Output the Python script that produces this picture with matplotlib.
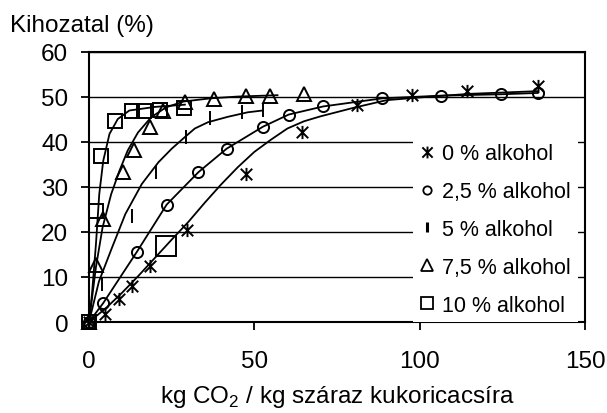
import matplotlib
matplotlib.use("Agg")
import matplotlib.pyplot as plt
from matplotlib.path import Path
from matplotlib.lines import Line2D

plt.rcParams['font.family'] = ['Liberation Sans', 'DejaVu Sans']

# ---- measured data (kg CO2 / kg dry corn germ, yield %) ----
x_0 = [0, 4.8, 9.2, 12.9, 18.5, 29.6, 47.6, 64.4, 81.0, 97.8, 114.4, 135.7]
y_0 = [0, 1.8, 5.1, 8.1, 12.5, 20.5, 32.9, 42.3, 48.3, 50.4, 51.3, 52.4]

x_25 = [0, 4.3, 14.4, 23.5, 33.1, 41.6, 52.6, 60.4, 70.8, 88.7, 106.4, 124.5, 135.7]
y_25 = [0, 4.2, 15.5, 26.1, 33.3, 38.5, 43.4, 46.1, 47.9, 49.7, 50.3, 50.6, 50.9]

x_5 = [0, 3.9, 13.0, 20.3, 29.3, 36.7, 46.3, 52.7]
y_5 = [0, 8.5, 23.6, 33.4, 41.2, 45.4, 46.6, 47.1]

x_75 = [0, 2.1, 4.3, 10.4, 13.6, 18.3, 22.5, 29.1, 37.7, 47.5, 54.6, 64.9]
y_75 = [0, 12.7, 22.9, 33.3, 38.3, 43.4, 46.8, 48.8, 49.5, 50.3, 50.2, 50.7]

x_10 = [0, 2.2, 3.7, 8.0, 13.0, 16.6, 21.5, 28.8]
y_10 = [0, 24.6, 36.8, 44.6, 46.8, 46.8, 47.2, 47.5]

# single enlarged square point of the 10 % series
x_10_big = [23.3]
y_10_big = [16.9]

# ---- fitted curves ----
cx_0 = [0, 5, 10, 15, 20, 25, 30, 35, 40, 45, 50, 55, 60, 65, 70, 80, 90, 100, 115, 135.7]
cy_0 = [0, 3.0, 6.5, 10.3, 14.3, 18.3, 22.2, 26.5, 30.6, 34.4, 37.8, 40.5, 43.0, 44.6, 45.7, 47.6, 49.3, 49.9, 50.7, 51.3]

cx_25 = [0, 4.3, 14.4, 23.5, 33.1, 41.6, 52.6, 60.4, 70.8, 88.7, 106.4, 124.5, 135.7]
cy_25 = [0, 4.2, 15.5, 26.1, 33.3, 38.5, 43.4, 46.1, 47.9, 49.7, 50.3, 50.6, 50.9]

cx_5 = [0, 3, 7, 11, 16, 21, 25, 29, 32, 36, 42, 48, 52.5]
cy_5 = [0, 9.0, 16.6, 24.0, 30.7, 35.5, 38.5, 41.1, 43.0, 44.4, 45.6, 46.6, 47.0]

cx_75 = [0, 2.1, 4.1, 6.7, 9.2, 11.7, 14.8, 18.8, 23.3, 28.6, 36.7, 45, 57]
cy_75 = [0, 12.2, 21.0, 28.4, 33.6, 38.1, 42.1, 45.5, 47.7, 49.0, 49.7, 50.1, 50.4]

cx_10 = [0, 0.9, 2.1, 3.1, 4.3, 6.2, 8.7, 12.2, 20, 29]
cy_10 = [0, 6.2, 17.3, 28.4, 35.8, 41.8, 45.1, 47.0, 47.8, 48.3]

labels = ['0 % alkohol', '2,5 % alkohol', '5 % alkohol', '7,5 % alkohol', '10 % alkohol']
x_ticks = [0, 50, 100, 150]
y_ticks = [0, 10, 20, 30, 40, 50, 60]

# star marker (X with vertical bar), like the Excel "star"
star = Path([(-1, -1), (1, 1), (-1, 1), (1, -1), (0, -1.15), (0, 1.15)],
            [Path.MOVETO, Path.LINETO, Path.MOVETO, Path.LINETO, Path.MOVETO, Path.LINETO])

fig = plt.figure(figsize=(6.07, 4.14), dpi=100)
ax = fig.add_axes([89/607, 1-323/414, 496/607, 270/414])

ax.set_xlim(0, 150)
ax.set_ylim(0, 60)
ax.set_xticks(x_ticks)
ax.set_yticks(y_ticks)
ax.yaxis.grid(True, color='black', lw=1.0)
ax.set_axisbelow(True)
for s in ax.spines.values():
    s.set_linewidth(1.5)
    s.set_color('black')
ax.tick_params(axis='both', direction='out', length=6, width=1.3, labelsize=17.5, colors='black')
ax.tick_params(axis='x', pad=14)
ax.tick_params(axis='y', pad=9)

lw = 1.3
for cx, cy in [(cx_0, cy_0), (cx_25, cy_25), (cx_5, cy_5), (cx_75, cy_75), (cx_10, cy_10)]:
    ax.plot(cx, cy, color='black', lw=lw, zorder=3)

mew = 1.4
styles = [
    dict(marker=star, ms=9.5),
    dict(marker='o', ms=8),
    dict(marker='|', ms=10),
    dict(marker='^', ms=10),
    dict(marker='s', ms=10),
]
series = [(x_0, y_0), (x_25, y_25), (x_5, y_5), (x_75, y_75), (x_10, y_10)]
for (xs, ys), st in zip(series, styles):
    ax.plot(xs, ys, linestyle='none', marker=st['marker'], ms=st['ms'],
            mfc='none', mec='black', mew=mew, clip_on=False, zorder=4)
ax.plot(x_10_big, y_10_big, linestyle='none', marker='s', ms=15,
        mfc='none', mec='black', mew=mew, zorder=4)

handles = []
leg_ms = [8.5, 6, 7, 8, 8]
leg_mew = [1.4, 1.3, 2.2, 1.3, 1.3]
for st, m, w in zip(styles, leg_ms, leg_mew):
    handles.append(Line2D([], [], linestyle='none', marker=st['marker'], ms=m,
                          mfc='none', mec='black', mew=w))
leg = ax.legend(handles, labels, loc='lower right', bbox_to_anchor=(0.985, 0.0),
                frameon=True, fancybox=False, edgecolor='none', facecolor='white',
                framealpha=1, fontsize=15.5, handlelength=0.7, handletextpad=0.35,
                labelspacing=0.78, borderpad=0.3, borderaxespad=0)
leg.set_zorder(5)

ax.set_xlabel('kg CO$_\\mathregular{2}$ / kg száraz kukoricacsíra', fontsize=17.5, labelpad=8)
fig.text(10/607, 1-26/414, 'Kihozatal (%)', fontsize=17.5, ha='left', va='center')

fig.savefig('out.png', dpi=100)
